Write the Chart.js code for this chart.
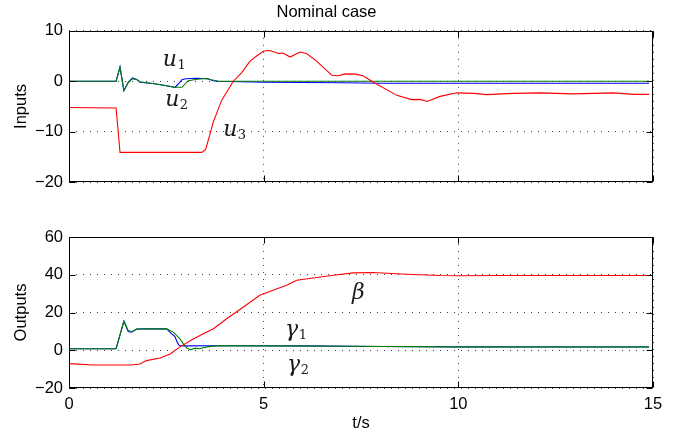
<!DOCTYPE html>
<html><head><meta charset="utf-8">
<script src="https://cdn.jsdelivr.net/npm/chart.js@4"></script>
<style>
html,body{margin:0;padding:0;background:#fff;}
#wrap{position:relative;width:685px;height:437px;background:#fff;}
#c1{position:absolute;left:0;top:0;}
#c2{position:absolute;left:0;top:200px;}
</style></head><body>
<div id="wrap"><canvas id="c1" width="685" height="198"></canvas><canvas id="c2" width="685" height="237"></canvas></div>
<script>
// ---------- data ----------
const chartTitle = 'Nominal case';
const xTicks = [0, 5, 10, 15];
const yTicksTop = [-20, -10, 0, 10];
const yTicksBottom = [-20, 0, 20, 40, 60];

// Inputs
const tU1 = [0, 1.21, 1.31, 1.41, 1.52, 1.63, 1.75, 1.82, 2.2, 2.5, 2.72, 2.8, 2.9, 3.0, 3.3, 3.57, 3.7, 3.8, 5, 7, 8, 10, 12, 14.9];
const vU1 = [0, 0, 2.8, -1.85, -0.2, 0.66, 0.3, -0.2, -0.5, -0.9, -1.2, -0.6, 0.3, 0.5, 0.6, 0.5, 0.1, 0, -0.2, -0.3, -0.4, -0.4, -0.4, -0.4];
const tU2 = [0, 1.21, 1.31, 1.41, 1.52, 1.63, 1.75, 1.82, 2.2, 2.5, 2.72, 2.9, 3.06, 3.3, 3.49, 3.65, 3.85, 5, 8, 10, 14.9];
const vU2 = [0, 0, 2.8, -1.85, -0.3, 0.5, 0.3, -0.1, -0.5, -0.9, -1.2, -1.2, 0.1, 0.4, 0.53, 0.3, 0, 0, 0, 0, 0];
const tU3 = [0, 1.21, 1.31, 3.41, 3.51, 3.71, 3.92, 4.22, 4.43, 4.65, 4.82, 5.0, 5.16, 5.38, 5.5, 5.68, 5.93, 6.1, 6.36, 6.62, 6.75, 6.92, 7.09, 7.35, 7.55, 7.82, 8.42, 8.8, 9.02, 9.2, 9.53, 9.96, 10.4, 10.73, 11.4, 12.1, 12.95, 13.98, 14.5, 14.9];
const vU3 = [-5.2, -5.3, -14.1, -14.1, -13.5, -8, -3.8, 0, 1.65, 4, 5, 6, 6.1, 5.5, 5.6, 4.8, 5.8, 5.5, 4, 2.1, 1.2, 1.1, 1.45, 1.4, 1.1, -0.2, -2.8, -3.65, -3.6, -4.0, -3.0, -2.3, -2.4, -2.65, -2.4, -2.3, -2.5, -2.3, -2.6, -2.6];

// Outputs
const tG1 = [0, 1.21, 1.41, 1.52, 1.61, 1.74, 2.0, 2.51, 2.59, 2.72, 2.78, 2.83, 2.94, 4, 6, 8, 10, 14.9];
const vG1 = [0.8, 0.8, 15.4, 9.9, 9.6, 11.2, 11.4, 11.3, 9.6, 7.3, 4.3, 2.5, 2.3, 2.4, 2.3, 2.0, 1.8, 1.7];
const tG2 = [0, 1.21, 1.41, 1.52, 1.61, 1.74, 2.0, 2.51, 2.68, 2.85, 2.94, 3.02, 3.12, 3.24, 3.36, 3.54, 3.79, 5, 7, 10, 14.9];
const vG2 = [0.8, 0.8, 15.4, 10.5, 9.8, 11.2, 11.4, 11.3, 9.6, 6.1, 3.4, 1.3, 0.2, 1.1, 0.8, 1.8, 2.3, 2.3, 2.1, 1.8, 1.8];
const tB = [0, 0.62, 1.61, 1.82, 1.99, 2.34, 2.6, 2.85, 3.19, 3.45, 3.71, 4.05, 4.48, 4.9, 5.24, 5.59, 5.85, 6.27, 6.79, 7.3, 7.8, 8.67, 9.53, 9.96, 11, 12, 13, 14, 14.9];
const vB = [-7.1, -7.8, -7.8, -7.3, -5.5, -4.1, -2, 1.8, 6, 8.7, 11.4, 16.7, 22.9, 29.1, 31.8, 34.4, 37.1, 38.3, 39.7, 41, 41.2, 40.3, 39.6, 39.5, 39.6, 39.6, 39.6, 39.6, 39.6];

// in-plot labels (symbol, subscript, t, value)
const topLabelSym = ['u', 'u', 'u'];
const topLabelSub = ['1', '2', '3'];
const topLabelT = [2.41, 2.47, 3.96];
const topLabelV = [2.98, -4.97, -10.93];
const botLabelSym = ['\u03B2', '\u03B3', '\u03B3'];
const botLabelSub = ['', '1', '2'];
const botLabelT = [7.27, 5.55, 5.6];
const botLabelV = [27.0, 7.8, -10.8];

// ---------- helpers ----------
const pts = (ts, vs) => ts.map((t, i) => ({x: t, y: vs[i]}));
const FONT = '"Liberation Sans", Arial, sans-serif';
const FS = 16.5;
Chart.defaults.color = '#000';
Chart.defaults.font.family = FONT;
Chart.defaults.font.size = FS;
const fmt = v => (v < 0 ? '\u2212' + Math.abs(v) : String(v));

const framePlugin = {
  id: 'frame',
  afterDatasetsDraw(chart) {
    const {ctx, chartArea: a, scales: {x, y}} = chart;
    const L = Math.round(a.left) + 0.5, R = Math.round(a.right) - 0.5;
    const T = Math.round(a.top) + 0.5, B = Math.round(a.bottom) - 0.5;
    ctx.save();
    ctx.strokeStyle = '#000';
    ctx.lineWidth = 1;
    ctx.setLineDash([]);
    ctx.strokeRect(L, T, R - L, B - T);
    const tl = 6;
    ctx.beginPath();
    x.ticks.forEach(tk => {
      const px = Math.round(x.getPixelForValue(tk.value)) + 0.5;
      ctx.moveTo(px, B); ctx.lineTo(px, B - tl);
      ctx.moveTo(px, T); ctx.lineTo(px, T + tl);
    });
    y.ticks.forEach(tk => {
      const py = Math.round(y.getPixelForValue(tk.value)) + 0.5;
      ctx.moveTo(L, py); ctx.lineTo(L + tl, py);
      ctx.moveTo(R, py); ctx.lineTo(R - tl, py);
    });
    ctx.stroke();
    ctx.restore();
  }
};
function labelPlugin(sym, sub, ts, vs) {
  return {
    id: 'mathLabels',
    afterDraw(chart) {
      const {ctx, scales: {x, y}} = chart;
      ctx.save();
      ctx.fillStyle = '#1a1a1a';
      ctx.textAlign = 'left';
      ctx.textBaseline = 'alphabetic';
      sym.forEach((s, i) => {
        const px = x.getPixelForValue(ts[i]);
        const py = y.getPixelForValue(vs[i]);
        ctx.font = 'italic 22px "DejaVu Serif", serif';
        ctx.fillText(s, px, py);
        const w = ctx.measureText(s).width;
        if (sub[i]) {
          ctx.font = '13px "DejaVu Serif", serif';
          ctx.fillText(sub[i], px + w + 0.5, py + 3);
        }
      });
      ctx.restore();
    }
  };
}
const gridOpts = {color: 'rgba(0,0,0,0.75)', lineWidth: 1, drawTicks: false, borderDash: [1, 6]};
const borderOpts = {display: false, dash: [1, 6]};
const ds = (data, color) => ({data, borderColor: color, backgroundColor: color, borderWidth: 1.1, pointRadius: 0, fill: false, tension: 0});

// ---------- top chart: Inputs ----------
new Chart(document.getElementById('c1'), {
  type: 'line',
  data: {datasets: [ds(pts(tU3, vU3), '#ff0000'), ds(pts(tU2, vU2), '#008000'), ds(pts(tU1, vU1), '#0000ff')]},
  options: {
    responsive: false, animation: false,
    layout: {padding: {left: 0, right: 32, top: 1, bottom: 1}},
    plugins: {
      legend: {display: false}, tooltip: {enabled: false},
      title: {display: true, text: chartTitle, font: {size: FS, weight: 'normal'}, padding: {top: 2, bottom: 8}, color: '#000'}
    },
    scales: {
      x: {type: 'linear', min: 0, max: 15, afterBuildTicks: s => { s.ticks = xTicks.map(v => ({value: v})); },
          ticks: {display: false}, grid: gridOpts, border: borderOpts,
          afterFit: s => { s.height = 0; }},
      y: {min: -20, max: 10, afterBuildTicks: s => { s.ticks = yTicksTop.map(v => ({value: v})); },
          ticks: {padding: 6, callback: fmt}, grid: gridOpts, border: borderOpts,
          title: {display: true, text: 'Inputs', padding: {top: 12, bottom: 0}},
          afterFit: s => { s.width = 69; }}
    }
  },
  plugins: [framePlugin, labelPlugin(topLabelSym, topLabelSub, topLabelT, topLabelV)]
});

// ---------- bottom chart: Outputs ----------
new Chart(document.getElementById('c2'), {
  type: 'line',
  data: {datasets: [ds(pts(tB, vB), '#ff0000'), ds(pts(tG2, vG2), '#008000'), ds(pts(tG1, vG1), '#0000ff')]},
  options: {
    responsive: false, animation: false,
    layout: {padding: {left: 0, right: 32, top: 37, bottom: 0}},
    plugins: {legend: {display: false}, tooltip: {enabled: false}},
    scales: {
      x: {type: 'linear', min: 0, max: 15, afterBuildTicks: s => { s.ticks = xTicks.map(v => ({value: v})); },
          ticks: {padding: 7, maxRotation: 0, callback: fmt}, grid: gridOpts, border: borderOpts,
          title: {display: true, text: 't/s', padding: {top: 0, bottom: 4}},
          afterFit: s => { s.height = 49; }},
      y: {min: -20, max: 60, afterBuildTicks: s => { s.ticks = yTicksBottom.map(v => ({value: v})); },
          ticks: {padding: 6, callback: fmt}, grid: gridOpts, border: borderOpts,
          title: {display: true, text: 'Outputs', padding: {top: 12, bottom: 0}},
          afterFit: s => { s.width = 69; }}
    }
  },
  plugins: [framePlugin, labelPlugin(botLabelSym, botLabelSub, botLabelT, botLabelV)]
});
</script>
</body></html>
